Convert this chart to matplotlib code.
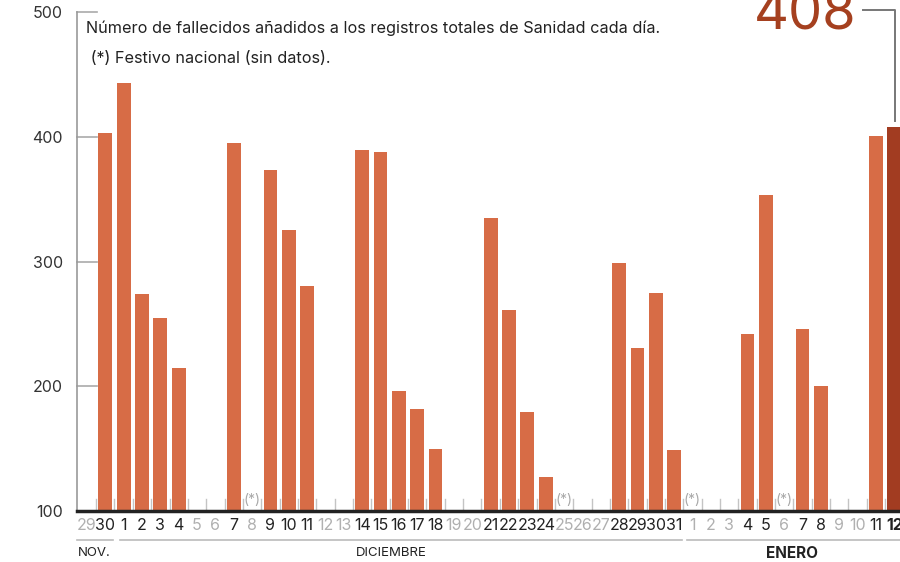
import matplotlib
matplotlib.use("Agg")
import matplotlib.pyplot as plt
import numpy as np

plt.rcParams['font.family'] = ['Inter', 'DejaVu Sans']

# daily deaths added to the totals (None = no data that day)
nov = [None, 403]
dic = [443, 274, 255, 215, None, None, 395, None, 373, 325, 280, None, None,
       389, 388, 196, 182, 150, None, None, 335, 261, 179, 127, None, None,
       None, 299, 231, 275, 149]
ene = [None, None, None, 242, 353, None, 246, 200, None, None, 401, 408]

nov_days = [29, 30]
dic_days = list(range(1, 32))
ene_days = list(range(1, 13))

# national holidays (day of month)
holidays_dic = [8, 25]
holidays_ene = [1, 6]

month_names = ["NOV.", "DICIEMBRE", "ENERO"]
title_1 = "Número de fallecidos añadidos a los registros totales de Sanidad cada día."
title_2 = " (*) Festivo nacional (sin datos)."

values = nov + dic + ene
labels = nov_days + dic_days + ene_days
holiday_idx = ([len(nov) + d - 1 for d in holidays_dic] +
               [len(nov) + len(dic) + d - 1 for d in holidays_ene])
n = len(values)
x = np.arange(n)

bar_col = '#d76c46'
last_col = '#a23c21'

fig = plt.figure(figsize=(9, 5.62), dpi=100)
ax = fig.add_axes([0.0852, 0.0907, 0.9148, 0.8879])
ax.set_xlim(-0.56, 44.31)
ax.set_ylim(100, 500)

# small gray ticks between days
for b in np.arange(0.5, n, 1.0):
    ax.plot([b, b], [100, 109.5], color='#c4c4c4', lw=1, zorder=1)

# y ticks as short inner lines
for yv in [200, 300, 400, 500]:
    ax.plot([-0.56, 0.53], [yv, yv], color='#aaaaaa', lw=1.2, zorder=1, clip_on=False)

xs = [xi for xi, v in zip(x, values) if v is not None]
vs = [v for v in values if v is not None]
cols = [bar_col] * len(vs)
cols[-1] = last_col
ax.bar(xs, np.array(vs) - 100, bottom=100, width=0.75, color=cols, zorder=2)

# baseline
ax.plot([-0.56, 44.31], [100, 100], color='#222222', lw=2.5, zorder=3, clip_on=False)

for s in ['top', 'right', 'bottom']:
    ax.spines[s].set_visible(False)
ax.spines['left'].set_color('#999999')
ax.spines['left'].set_linewidth(1.2)
ax.set_xticks([])
ax.set_yticks([100, 200, 300, 400, 500])
ax.set_yticklabels(['100', '200', '300', '400', '500'])
ax.tick_params(axis='y', length=0, pad=10, labelsize=11.5, labelcolor='#333333')

# day labels
for xi, d, v in zip(x, labels, values):
    col = '#222222' if v is not None else '#b0b0b0'
    bold = 'bold' if xi == n - 1 else 'normal'
    ax.text(xi, 88, str(d), ha='center', va='center', fontsize=11.5,
            color=col, fontweight=bold, clip_on=False)

for hi in holiday_idx:
    ax.text(hi, 109, "(*)", ha='center', va='center', fontsize=10,
            color='#aaaaaa', clip_on=False)

# month brackets
i_nov_end = len(nov) - 0.5
i_dic_end = len(nov) + len(dic) - 0.5
ax.plot([-0.56, i_nov_end - 0.08], [76.8, 76.8], color='#bbbbbb', lw=1.2, clip_on=False)
ax.plot([i_nov_end + 0.3, i_dic_end - 0.08], [76.8, 76.8], color='#bbbbbb', lw=1.2, clip_on=False)
ax.plot([i_dic_end + 0.2, 44.31], [76.8, 76.8], color='#bbbbbb', lw=1.2, clip_on=False)
ax.text(-0.48, 66.3, month_names[0], ha='left', va='center', fontsize=9.5,
        color='#222222', clip_on=False)
ax.text(16.6, 66.3, month_names[1], ha='center', va='center', fontsize=9.5,
        color='#222222', clip_on=False)
ax.text(38.4, 66.3, month_names[2], ha='center', va='center', fontsize=11,
        fontweight='bold', color='#222222', clip_on=False)

# title lines
ax.text(-0.05, 483, title_1, ha='left', va='baseline', fontsize=11.7, color='#222222')
ax.text(-0.05, 459, title_2, ha='left', va='baseline', fontsize=11.7, color='#222222')

# last value callout
ax.text(41.96, 486, str(values[-1]), ha='right', va='baseline', fontsize=39,
        color='#a5401f', clip_on=False)
ax.plot([42.3, 44.02, 44.02], [501.6, 501.6, 412.6], color='#777777', lw=1.4,
        clip_on=False, zorder=4)

fig.savefig('out.png', dpi=100)
